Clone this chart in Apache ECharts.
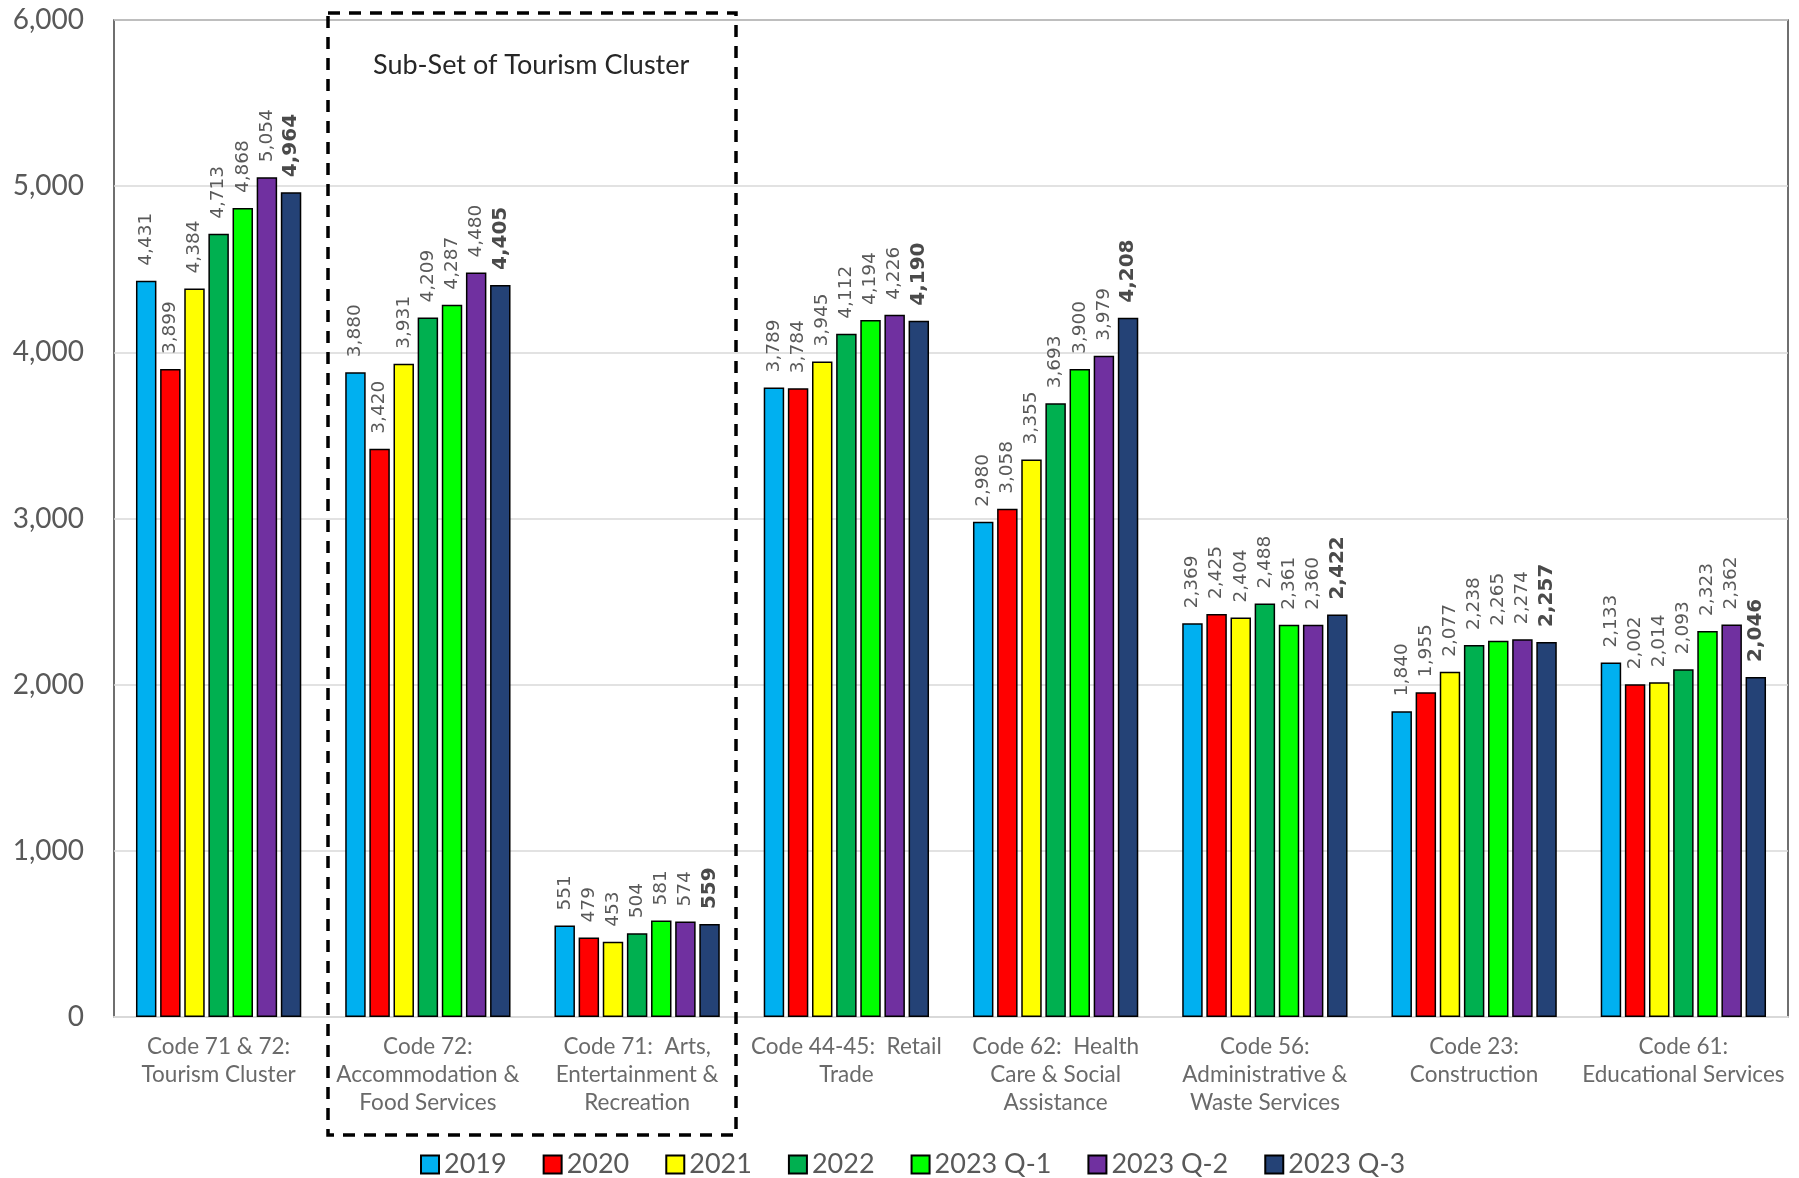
<!DOCTYPE html>
<html>
<head>
<meta charset="utf-8">
<script src="https://cdn.jsdelivr.net/npm/echarts@6/dist/echarts.min.js"></script>
<style>
html,body{margin:0;padding:0;background:#fff;}
#chart{width:1799px;height:1178px;}
</style>
</head>
<body>
<div id="chart"></div>
<script>
const categories = [
  "Code 71 & 72:\nTourism Cluster",
  "Code 72:\nAccommodation &\nFood Services",
  "Code 71:  Arts,\nEntertainment &\nRecreation",
  "Code 44-45:  Retail\nTrade",
  "Code 62:  Health\nCare & Social\nAssistance",
  "Code 56:\nAdministrative &\nWaste Services",
  "Code 23:\nConstruction",
  "Code 61:\nEducational Services"
];
const seriesNames = ["2019", "2020", "2021", "2022", "2023 Q-1", "2023 Q-2", "2023 Q-3"];
const v2019  = [4431, 3880, 551, 3789, 2980, 2369, 1840, 2133];
const v2020  = [3899, 3420, 479, 3784, 3058, 2425, 1955, 2002];
const v2021  = [4384, 3931, 453, 3945, 3355, 2404, 2077, 2014];
const v2022  = [4713, 4209, 504, 4112, 3693, 2488, 2238, 2093];
const v2023q1 = [4868, 4287, 581, 4194, 3900, 2361, 2265, 2323];
const v2023q2 = [5054, 4480, 574, 4226, 3979, 2360, 2274, 2362];
const v2023q3 = [4964, 4405, 559, 4190, 4208, 2422, 2257, 2046];
const yTicks = { min: 0, max: 6000, interval: 1000 };
const annotationText = "Sub-Set of Tourism Cluster";

const allValues = [v2019, v2020, v2021, v2022, v2023q1, v2023q2, v2023q3];
const colors = ["#00B0F0", "#FF0000", "#FFFF00", "#00B050", "#00FF00", "#7030A0", "#244276"];

const chart = echarts.init(document.getElementById('chart'));
const series = seriesNames.map((name, i) => ({
  name: name,
  type: 'bar',
  data: allValues[i],
  barGap: '18%',
  barCategoryGap: '21%',
  itemStyle: { color: colors[i], borderColor: '#000', borderWidth: 1.5 },
  label: {
    show: true,
    position: 'top',
    rotate: 90,
    align: 'left',
    verticalAlign: 'middle',
    distance: 15,
    color: i === 6 ? '#4a4a4a' : '#595959',
    fontFamily: 'DejaVu Sans',
    fontSize: i === 6 ? 20 : 18.5,
    fontWeight: i === 6 ? 'bold' : 'normal',
    formatter: p => p.value.toLocaleString('en-US')
  }
}));

chart.setOption({
  animation: false,
  backgroundColor: '#fff',
  textStyle: { fontFamily: 'Lato' },
  grid: {
    left: 114, right: 11, top: 20, bottom: 161,
    show: true, borderColor: '#404040', borderWidth: 1.5
  },
  legend: {
    data: seriesNames,
    left: 420,
    top: 1151,
    padding: 0,
    itemWidth: 18,
    itemHeight: 18,
    itemGap: 36,
    icon: 'rect',
    textStyle: { fontFamily: 'Lato', fontSize: 27, color: '#595959' }
  },
  xAxis: {
    type: 'category',
    data: categories,
    axisLine: { show: true, lineStyle: { color: '#d9d9d9', width: 2 } },
    axisTick: { show: false },
    axisLabel: {
      interval: 0,
      margin: 16,
      fontFamily: 'Lato',
      fontSize: 22.5,
      lineHeight: 28,
      color: '#6a6a6a'
    }
  },
  yAxis: {
    type: 'value',
    min: yTicks.min,
    max: yTicks.max,
    interval: yTicks.interval,
    axisLine: { show: false },
    axisTick: { show: false },
    splitLine: { lineStyle: { color: '#d9d9d9', width: 1.5 } },
    axisLabel: {
      margin: 30,
      fontFamily: 'Lato',
      fontSize: 28,
      color: '#595959',
      formatter: v => v.toLocaleString('en-US')
    }
  },
  graphic: [
    {
      type: 'rect',
      silent: true,
      z: 100,
      shape: { x: 328, y: 13, width: 408, height: 1122 },
      style: { fill: 'none', stroke: '#000', lineWidth: 3.5, lineDash: [12, 9] }
    },
    {
      type: 'text',
      silent: true,
      z: 100,
      left: 373,
      top: 52,
      style: { text: annotationText, font: '27px Lato', fill: '#262626' }
    }
  ],
  series: series
});
</script>
</body>
</html>
